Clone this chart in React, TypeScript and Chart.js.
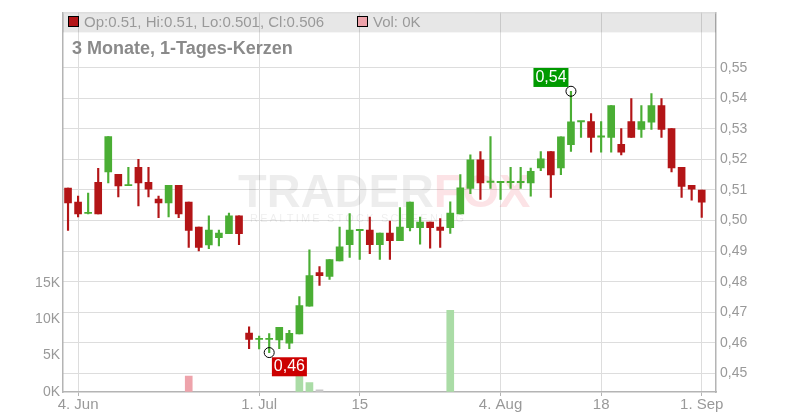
import React, { useEffect, useRef } from 'react';
import { Chart, registerables } from 'chart.js';

Chart.register(...registerables);

const dates = [
  '2025-06-03', '2025-06-04', '2025-06-05', '2025-06-06', '2025-06-10', '2025-06-11', '2025-06-12', '2025-06-13',
  '2025-06-16', '2025-06-17', '2025-06-18', '2025-06-19', '2025-06-20', '2025-06-23', '2025-06-24', '2025-06-25',
  '2025-06-26', '2025-06-27', '2025-06-30', '2025-07-01', '2025-07-02', '2025-07-03', '2025-07-04', '2025-07-07',
  '2025-07-08', '2025-07-09', '2025-07-10', '2025-07-11', '2025-07-14', '2025-07-15', '2025-07-16', '2025-07-17',
  '2025-07-18', '2025-07-21', '2025-07-22', '2025-07-23', '2025-07-24', '2025-07-25', '2025-07-28', '2025-07-29',
  '2025-07-30', '2025-07-31', '2025-08-01', '2025-08-04', '2025-08-05', '2025-08-06', '2025-08-07', '2025-08-08',
  '2025-08-11', '2025-08-12', '2025-08-13', '2025-08-14', '2025-08-15', '2025-08-18', '2025-08-19', '2025-08-20',
  '2025-08-21', '2025-08-22', '2025-08-25', '2025-08-26', '2025-08-27', '2025-08-28', '2025-08-29', '2025-09-01',
];

const open = [
  0.5106, 0.5060, 0.5023, 0.5125, 0.5159, 0.5151, 0.5114, 0.5174,
  0.5125, 0.5070, 0.5058, 0.5115, 0.5060, 0.4979, 0.4920, 0.4944,
  0.4957, 0.5015, 0.4632, 0.4611, 0.4611, 0.4609, 0.4599, 0.4629,
  0.4720, 0.4830, 0.4817, 0.4868, 0.4921, 0.4967, 0.4969, 0.4921,
  0.4959, 0.4934, 0.4977, 0.4977, 0.4995, 0.4979, 0.4977, 0.5022,
  0.5105, 0.5199, 0.5125, 0.5124, 0.5124, 0.5124, 0.5123, 0.5172,
  0.5226, 0.5172, 0.5248, 0.5323, 0.5324, 0.5273, 0.5272, 0.5249,
  0.5324, 0.5298, 0.5322, 0.5376, 0.5301, 0.5174, 0.5115, 0.51,
];

const high = [
  0.5106, 0.5080, 0.5090, 0.5171, 0.5275, 0.5151, 0.5174, 0.5200,
  0.5174, 0.5080, 0.5115, 0.5115, 0.5060, 0.4979, 0.5015, 0.4969,
  0.5024, 0.5015, 0.4652, 0.4622, 0.4630, 0.4651, 0.4641, 0.4751,
  0.4904, 0.4849, 0.4872, 0.4979, 0.5023, 0.4969, 0.5011, 0.4959,
  0.4998, 0.5042, 0.5060, 0.5011, 0.4995, 0.5006, 0.5061, 0.5150,
  0.5215, 0.5226, 0.5275, 0.5126, 0.5174, 0.5174, 0.5172, 0.5226,
  0.5226, 0.5274, 0.5423, 0.5325, 0.5350, 0.5324, 0.5376, 0.5301,
  0.5399, 0.5376, 0.5415, 0.5399, 0.5301, 0.5174, 0.5115, 0.51,
];

const low = [
  0.4968, 0.5012, 0.5022, 0.5022, 0.5123, 0.5077, 0.5114, 0.5048,
  0.5077, 0.5009, 0.5012, 0.5009, 0.4912, 0.4901, 0.4908, 0.4917,
  0.4957, 0.4921, 0.4581, 0.4580, 0.4568, 0.4581, 0.4581, 0.4629,
  0.4720, 0.4788, 0.4807, 0.4868, 0.4879, 0.4873, 0.4892, 0.4873,
  0.4873, 0.4934, 0.4966, 0.4923, 0.4910, 0.4912, 0.4958, 0.5022,
  0.5088, 0.5069, 0.5105, 0.5069, 0.5105, 0.5105, 0.5080, 0.5163,
  0.5076, 0.5150, 0.5226, 0.5272, 0.5224, 0.5224, 0.5224, 0.5215,
  0.5272, 0.5272, 0.5298, 0.5272, 0.5159, 0.5076, 0.5067, 0.501,
];

const close = [
  0.5058, 0.5022, 0.5025, 0.5022, 0.5275, 0.5113, 0.5116, 0.5123,
  0.5103, 0.5058, 0.5115, 0.5022, 0.4968, 0.4912, 0.4969, 0.4959,
  0.5015, 0.4957, 0.4611, 0.4613, 0.4613, 0.4651, 0.4631, 0.4722,
  0.4820, 0.4820, 0.4872, 0.4914, 0.4969, 0.4969, 0.4921, 0.4959,
  0.4934, 0.4979, 0.5060, 0.4995, 0.4977, 0.4968, 0.5024, 0.5107,
  0.5199, 0.5123, 0.5127, 0.5126, 0.5126, 0.5126, 0.5161, 0.5202,
  0.5149, 0.5274, 0.5323, 0.5325, 0.5272, 0.5275, 0.5376, 0.5224,
  0.5272, 0.5324, 0.5376, 0.5298, 0.5172, 0.5112, 0.5103, 0.506,
];

const volume = [
  0, 0, 0, 0, 0, 0, 0, 0,
  0, 0, 0, 0, 2200, 0, 0, 0,
  0, 0, 0, 0, 0, 0, 0, 2300,
  1300, 300, 0, 0, 0, 0, 0, 0,
  0, 0, 0, 0, 0, 0, 11200, 0,
  0, 0, 0, 0, 0, 0, 0, 0,
  0, 0, 0, 0, 0, 0, 0, 0,
  0, 0, 0, 0, 0, 0, 0, 0,
];

const xTickDates = ['2025-06-04', '2025-07-01', '2025-07-15', '2025-08-04', '2025-08-18', '2025-09-01'];
const xTickLabels = ['4. Jun', '1. Jul', '15', '4. Aug', '18', '1. Sep'];
const priceTicks = [0.45, 0.46, 0.47, 0.48, 0.49, 0.5, 0.51, 0.52, 0.53, 0.54, 0.55];
const volumeTicks = [0, 5000, 10000, 15000];

const titleText = '3 Monate, 1-Tages-Kerzen';

const UP = '#4aae34';
const DOWN = '#b31517';
const VOL_UP = '#aadca6';
const VOL_DOWN = '#eea3ab';
const VOL_FLAT = '#c8c8c8';
const GRID = '#dddddd';
const AXIS = '#b4b4b4';
const TEXT = '#999999';
const FONT = "'Liberation Sans', Arial, sans-serif";

const fmtComma = (v: number) => v.toFixed(2).replace('.', ',');

export default function App() {
  const ref = useRef<HTMLCanvasElement>(null);

  useEffect(() => {
    const idx = dates.map((_, i) => i);
    const tickIdx = xTickDates.map((d) => dates.indexOf(d));
    const candleColor = idx.map((i) => (close[i] >= open[i] ? UP : DOWN));
    const volIdx = idx.filter((i) => volume[i] > 0);
    const volColor = volIdx.map((i) => {
      const prev = i > 0 ? close[i - 1] : open[i];
      if (close[i] > prev) return VOL_UP;
      if (close[i] < prev) return VOL_DOWN;
      return VOL_FLAT;
    });
    const last = dates.length - 1;
    let hiI = 0;
    let loI = 0;
    idx.forEach((i) => {
      if (high[i] > high[hiI]) hiI = i;
      if (low[i] < low[loI]) loI = i;
    });

    const decor = {
      id: 'decor',
      beforeDatasetsDraw(chart: any) {
        const { ctx, chartArea } = chart;
        const a = chartArea;
        ctx.save();
        // watermark
        ctx.font = `bold 47px ${FONT}`;
        ctx.textBaseline = 'alphabetic';
        ctx.textAlign = 'left';
        ctx.fillStyle = 'rgba(0,0,0,0.07)';
        ctx.fillText('TRADER', 238, 207);
        const w = ctx.measureText('TRADER').width;
        ctx.fillStyle = 'rgba(235,40,60,0.13)';
        ctx.fillText('FOX', 238 + w, 207);
        ctx.font = `11px ${FONT}`;
        (ctx as any).letterSpacing = '2.2px';
        ctx.fillStyle = 'rgba(0,0,0,0.07)';
        ctx.fillText('REALTIME STOCK SCREENING', 250, 222);
        (ctx as any).letterSpacing = '0px';
        // legend band
        ctx.fillStyle = 'rgba(0,0,0,0.095)';
        ctx.fillRect(a.left, a.top + 1, a.right - a.left, 19);
        ctx.strokeStyle = '#c8c8c8';
        ctx.lineWidth = 1;
        ctx.beginPath();
        ctx.moveTo(a.left, a.top + 0.5);
        ctx.lineTo(a.right, a.top + 0.5);
        ctx.stroke();
        // legend items
        ctx.fillStyle = DOWN;
        ctx.fillRect(68.5, 16.5, 10, 10);
        ctx.strokeStyle = '#000';
        ctx.strokeRect(68.5, 16.5, 10, 10);
        ctx.font = `15px ${FONT}`;
        ctx.fillStyle = TEXT;
        ctx.textBaseline = 'alphabetic';
        ctx.fillText(`Op:${open[last]}, Hi:${high[last]}, Lo:${low[last]}, Cl:${close[last]}`, 84, 26.5);
        ctx.fillStyle = VOL_DOWN;
        ctx.fillRect(357.5, 16.5, 10, 10);
        ctx.strokeStyle = '#000';
        ctx.strokeRect(357.5, 16.5, 10, 10);
        ctx.fillStyle = TEXT;
        ctx.fillText(`Vol: ${volume[last] / 1000}K`, 373, 26.5);
        // title
        ctx.font = `bold 18px ${FONT}`;
        ctx.fillStyle = '#8a8a8a';
        ctx.fillText(titleText, 72, 54);
        ctx.restore();
      },
      afterDatasetsDraw(chart: any) {
        const { ctx, scales } = chart;
        const xs = scales.x;
        const ys = scales.yP;
        ctx.save();
        ctx.font = `16px ${FONT}`;
        ctx.textAlign = 'center';
        ctx.textBaseline = 'middle';
        // high marker
        let cx = xs.getPixelForValue(hiI);
        let cy = ys.getPixelForValue(high[hiI]);
        ctx.strokeStyle = '#000';
        ctx.lineWidth = 1;
        ctx.beginPath();
        ctx.arc(cx, cy, 5, 0, Math.PI * 2);
        ctx.stroke();
        ctx.fillStyle = '#009a00';
        ctx.fillRect(cx - 2.5 - 35, cy - 4.3 - 19, 35, 19);
        ctx.fillStyle = '#fff';
        ctx.fillText(fmtComma(high[hiI]), cx - 2.5 - 17.5, cy - 4.3 - 9.5);
        // low marker
        cx = xs.getPixelForValue(loI);
        cy = ys.getPixelForValue(low[loI]);
        ctx.beginPath();
        ctx.arc(cx, cy, 5, 0, Math.PI * 2);
        ctx.stroke();
        ctx.fillStyle = '#cc0000';
        ctx.fillRect(cx + 2.7, cy + 4.7, 35, 19);
        ctx.fillStyle = '#fff';
        ctx.fillText(fmtComma(low[loI]), cx + 2.7 + 17.5, cy + 4.7 + 9.5);
        ctx.restore();
      },
    };

    const chart = new Chart(ref.current as HTMLCanvasElement, {
      type: 'bar',
      data: {
        datasets: [
          {
            label: 'wick',
            data: idx.map((i) => ({ x: i, y: [low[i], high[i]] })) as any,
            backgroundColor: candleColor,
            barThickness: 1.5,
            grouped: false,
            xAxisID: 'x',
            yAxisID: 'yP',
            order: 2,
          } as any,
          {
            label: 'body',
            data: idx.map((i) => ({ x: i, y: [open[i], close[i]] })) as any,
            backgroundColor: candleColor,
            barThickness: 7,
            minBarLength: 1.2,
            grouped: false,
            xAxisID: 'x',
            yAxisID: 'yP',
            order: 1,
          } as any,
          {
            label: 'volume',
            data: volIdx.map((i) => ({ x: i, y: volume[i] })) as any,
            backgroundColor: volColor,
            barThickness: 7,
            grouped: false,
            xAxisID: 'x',
            yAxisID: 'yV',
            order: 3,
          } as any,
        ],
      },
      options: {
        responsive: false,
        animation: false,
        layout: { padding: { top: 10, left: 0, right: 0, bottom: 0 } },
        plugins: { legend: { display: false }, tooltip: { enabled: false } },
        scales: {
          x: {
            type: 'linear',
            position: 'bottom',
            min: -0.5,
            max: 64.42,
            offset: false,
            afterBuildTicks: (s: any) => {
              s.ticks = tickIdx.map((v) => ({ value: v }));
            },
            afterFit: (s: any) => {
              s.height = 28;
            },
            ticks: {
              autoSkip: false,
              maxRotation: 0,
              padding: 0,
              color: TEXT,
              font: { family: FONT, size: 15 },
              callback: (v: any) => {
                const k = tickIdx.indexOf(Number(v));
                return k >= 0 ? xTickLabels[k] : '';
              },
            },
            grid: { color: GRID, tickLength: 4, tickColor: AXIS, offset: false },
            border: { color: AXIS, width: 1.5 },
          } as any,
          yP: {
            type: 'linear',
            position: 'right',
            min: 0.4439,
            max: 0.5681,
            afterBuildTicks: (s: any) => {
              s.ticks = priceTicks.map((v) => ({ value: v }));
            },
            afterFit: (s: any) => {
              s.width = 84;
            },
            ticks: {
              padding: 4,
              color: TEXT,
              font: { family: FONT, size: 14 },
              callback: (v: any) => fmtComma(Number(v)),
            },
            grid: { color: GRID, drawTicks: false },
            border: { color: AXIS, width: 1.5 },
          } as any,
          yV: {
            type: 'linear',
            position: 'left',
            min: 0,
            max: 52091,
            afterBuildTicks: (s: any) => {
              s.ticks = volumeTicks.map((v) => ({ value: v }));
            },
            afterFit: (s: any) => {
              s.width = 63;
            },
            ticks: {
              padding: 3,
              color: TEXT,
              font: { family: FONT, size: 14 },
              callback: (v: any) => `${Number(v) / 1000}K`,
            },
            grid: { drawOnChartArea: false, drawTicks: false },
            border: { color: AXIS, width: 1.5 },
          } as any,
        },
      },
      plugins: [decor as any],
    });
    return () => chart.destroy();
  }, []);

  return (
    <div style={{ position: 'absolute', left: 0, top: 0, width: 800, height: 420, background: '#fff' }}>
      <canvas ref={ref} width={800} height={420} style={{ width: 800, height: 420, display: 'block' }} />
    </div>
  );
}
